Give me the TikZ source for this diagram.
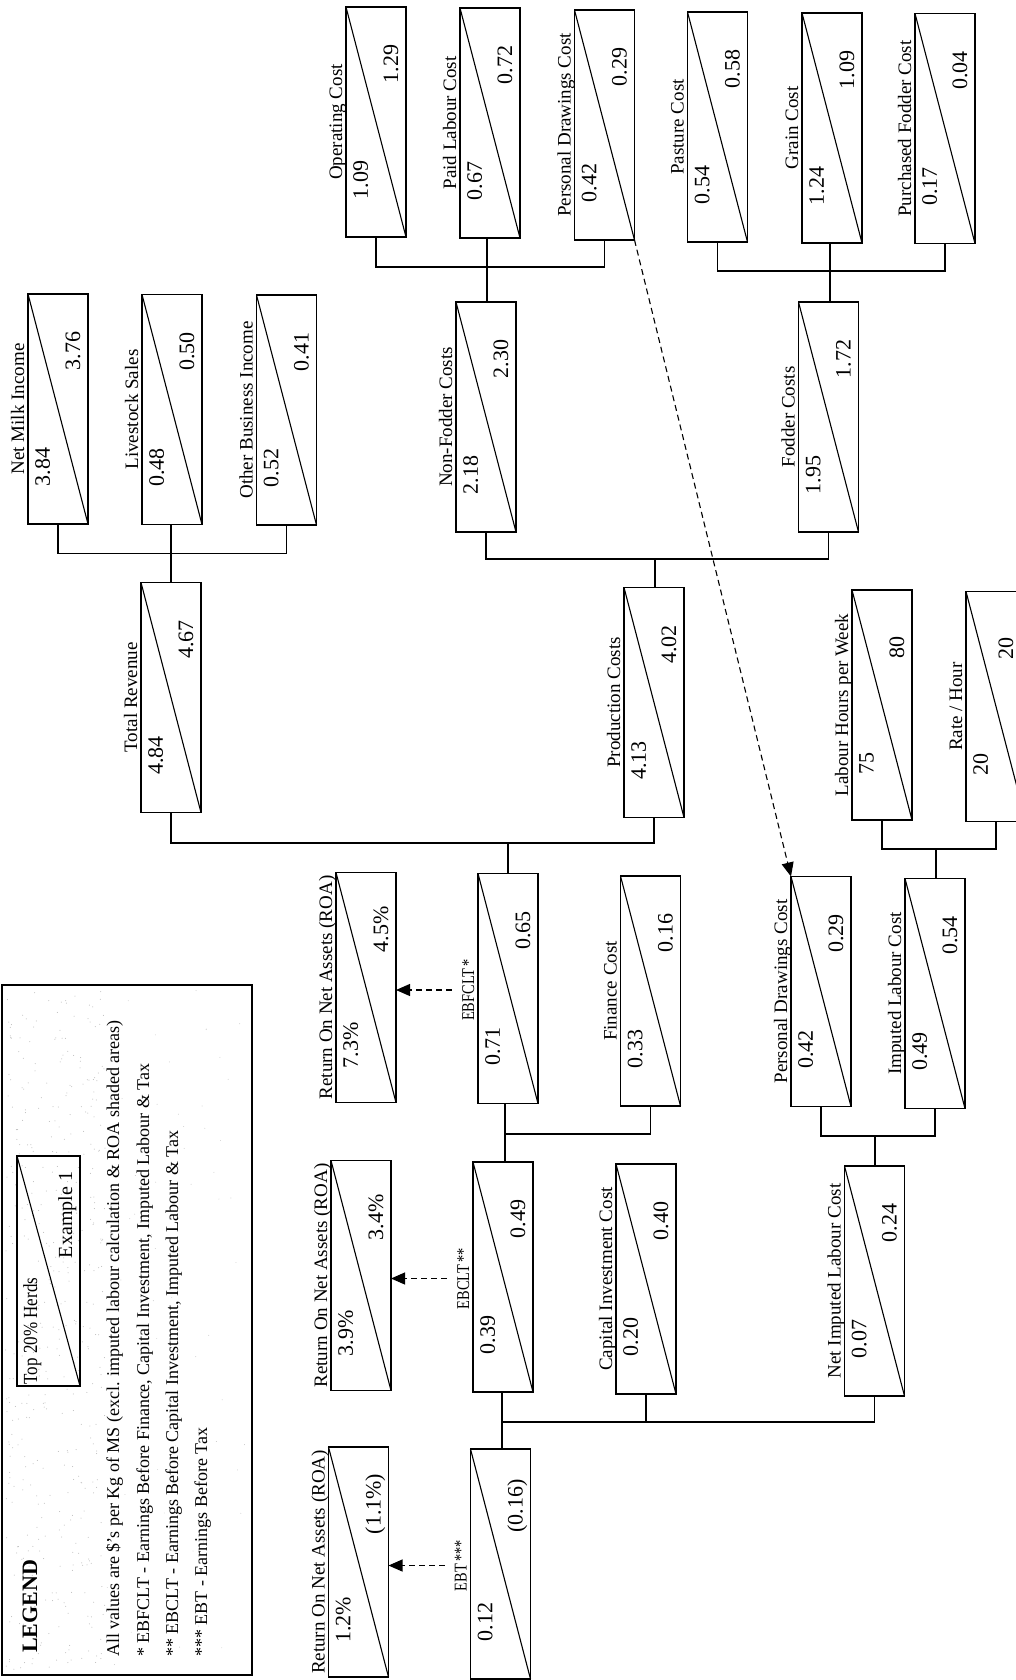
\documentclass[tikz,border=0pt]{standalone}
\usepackage{graphicx}
\usepackage{fontspec}
\setmainfont{Liberation Serif}
\usetikzlibrary{arrows.meta,calc}
\tikzset{
  bx/.style={draw, line width=1.2pt, minimum width=60pt, minimum height=230pt, inner sep=0pt, outer sep=0pt},
  diag/.style={line width=1.1pt},
  lbl/.style={rotate=90, inner sep=0pt, font=\fontsize{19}{19}\selectfont},
  eblbl/.style={rotate=90, inner sep=0pt, font=\fontsize{18}{18}\selectfont, xshift=-1.5pt},
  val/.style={rotate=90, inner sep=0pt, font=\fontsize{22}{22}\selectfont},
  conn/.style={line width=1.1pt},
  darr/.style={line width=1.1pt, dash pattern=on 6pt off 4pt, -{Triangle[length=14pt,width=12pt]}},
  legtxt/.style={rotate=90, inner sep=0pt, anchor=base west, font=\fontsize{18}{18}\selectfont},
}
\newcommand{\narrow}[1]{\scalebox{0.8}[1]{#1}}
\newcommand{\vtwoshift}{-8pt}
\newcommand{\dbox}[7][lbl]{%
  \node[bx] (#2) at (#3,-#4) {};
  \draw[diag] (#2.north west) -- (#2.south east);
  \node[#1, anchor=base] (#2-l) at ([xshift=-4pt]#2.west) {#5};
  \node[val, anchor=north] (#2-a) at ([xshift=7pt,yshift=57pt]#2.south west) {#6};
  \node[val, anchor=base] (#2-b) at ([xshift=\vtwoshift,yshift=-57pt]#2.north east) {#7};
}
\begin{document}
\begin{tikzpicture}[x=1pt,y=1pt]
\clip (0,0) rectangle (1016,-1680);
\fill[white] (0,0) rectangle (1016,-1680);

% ---------- legend ----------
\node[draw, line width=1.2pt, minimum width=250pt, minimum height=690pt, inner sep=0pt] (leg) at (127,-1330) {};
\pgfmathsetseed{12}
\foreach \i in {1,...,420}{\fill[gray!55] ({5+100*rnd},{-990-680*rnd}) circle (0.5pt);}
\foreach \i in {1,...,60}{\fill[gray!45] ({105+140*rnd},{-990-680*rnd}) circle (0.45pt);}
\node[rotate=90, anchor=base west, inner sep=0pt, font=\bfseries\fontsize{22}{22}\selectfont] (legt) at (37,-1653) {LEGEND};
\node[bx, minimum width=63pt] (smp) at (48.5,-1271) {};
\draw[diag] (smp.north west) -- (smp.south east);
\node[rotate=90, inner sep=0pt, anchor=north, font=\fontsize{20}{20}\selectfont] (smp-a) at ([xshift=6pt,yshift=55pt]smp.south west) {\scalebox{0.85}[1]{Top 20\% Herds}};
\node[rotate=90, inner sep=0pt, anchor=base, font=\fontsize{20}{20}\selectfont] (smp-b) at ([xshift=-8pt,yshift=-59pt]smp.north east) {Example 1};
\node[legtxt] (lg1) at (119,-1657) {All values are \$'s per Kg of MS (excl. imputed labour calculation \& ROA shaded areas)};
\node[legtxt] (lg2) at (149,-1657) {* EBFCLT - Earnings Before Finance, Capital Investment, Imputed Labour \& Tax};
\node[legtxt] (lg3) at (178,-1657) {** EBCLT - Earnings Before Capital Investment, Imputed Labour \& Tax};
\node[legtxt] (lg4) at (207,-1657) {*** EBT - Earnings Before Tax};

% ---------- boxes ----------
\dbox{oc}{376}{122}{Operating Cost}{1.09}{1.29}
\dbox{plc}{490}{123}{Paid Labour Cost}{0.67}{0.72}
\dbox{pd1}{604.5}{125}{Personal Drawings Cost}{0.42}{0.29}
\dbox{pc}{717.5}{127}{Pasture Cost}{0.54}{0.58}
\dbox{gc}{832}{128}{Grain Cost}{1.24}{1.09}
\dbox{pfc}{945}{128.5}{Purchased Fodder Cost}{0.17}{0.04}

\dbox{nmi}{58}{409}{Net Milk Income}{3.84}{3.76}
\dbox{ls}{172}{409.5}{Livestock Sales}{0.48}{0.50}
\dbox{obi}{286.5}{410}{Other Business Income}{0.52}{0.41}
\dbox{nfc}{486}{417}{Non-Fodder Costs}{2.18}{2.30}
\dbox{fc}{828.5}{417}{Fodder Costs}{1.95}{1.72}

\dbox{tr}{171}{697.5}{Total Revenue}{4.84}{4.67}
\dbox{prc}{654}{702.5}{Production Costs}{4.13}{4.02}
\dbox{lhw}{882}{705}{Labour Hours per Week}{75}{80}
{\renewcommand{\vtwoshift}{-13pt}\dbox{rh}{996}{706.5}{Rate / Hour}{20}{20}}

\dbox{roa1}{366}{987.5}{Return On Net Assets (ROA)}{7.3\%}{4.5\%}
\dbox[eblbl]{ebf}{508}{988.5}{\narrow{EBFCLT\,*}}{0.71}{0.65}
\dbox{fin}{650.5}{991}{Finance Cost}{0.33}{0.16}
\dbox{pd2}{821}{991.5}{Personal Drawings Cost}{0.42}{0.29}
\dbox{ilc}{935}{993.5}{Imputed Labour Cost}{0.49}{0.54}

\dbox{roa2}{361}{1275.5}{Return On Net Assets (ROA)}{3.9\%}{3.4\%}
\dbox[eblbl]{ebc}{503}{1277}{\narrow{EBCLT\,**}}{0.39}{0.49}
\dbox{cic}{646}{1279}{Capital Investment Cost}{0.20}{0.40}
\dbox{nilc}{874.5}{1281}{Net Imputed Labour Cost}{0.07}{0.24}

\dbox{roa3}{358.5}{1562}{Return On Net Assets (ROA)}{1.2\%}{(1.1\%)}
\dbox[eblbl]{ebt}{500.5}{1564}{\narrow{EBT\,***}}{0.12}{(0.16)}

% ---------- connectors ----------
\coordinate (j1) at (171,-553.6);
\draw[conn] (nmi.south) |- (j1) -| (obi.south);
\draw[conn] (j1 |- ls.south) -- (j1 |- tr.north);

\coordinate (j2) at (487,-267);
\draw[conn] (oc.south) |- (j2) -| (pd1.south);
\draw[conn] (j2 |- plc.south) -- (j2 |- nfc.north);

\coordinate (j3) at (830,-271);
\draw[conn] (pc.south) |- (j3) -| (pfc.south);
\draw[conn] (j3 |- gc.south) -- (j3 |- fc.north);

\coordinate (j4) at (655,-559);
\draw[conn] (nfc.south) |- (j4) -| (fc.south);
\draw[conn] (j4) -- (j4 |- prc.north);

\coordinate (j5) at (508,-843);
\draw[conn] (tr.south) |- (j5) -| (prc.south);
\draw[conn] (j5) -- (j5 |- ebf.north);

\coordinate (j6) at (936,-849);
\draw[conn] (lhw.south) |- (j6) -| (rh.south);
\draw[conn] (j6) -- (j6 |- ilc.north);

\coordinate (j7) at (505,-1134);
\draw[conn] (j7 |- ebf.south) -- (j7 |- ebc.north);
\draw[conn] (j7) -| (fin.south);

\coordinate (j8) at (875,-1136);
\draw[conn] (pd2.south) |- (j8) -| (ilc.south);
\draw[conn] (j8) -- (j8 |- nilc.north);

\coordinate (j9) at (502,-1422);
\draw[conn] (j9 |- ebc.south) -- (j9 |- ebt.north);
\draw[conn] (j9) -| (nilc.south);
\draw[conn] (cic.south) -- (cic.south |- j9);

% ---------- dashed arrows ----------
\draw[darr] (pd1.south east) -- (pd2.north west);
\draw[darr] ([xshift=-10pt]ebf-l.north) -- (ebf-l.north -| roa1.east);
\draw[darr] ([xshift=-10pt]ebc-l.north) -- (ebc-l.north -| roa2.east);
\draw[darr] ([xshift=-10pt]ebt-l.north) -- (ebt-l.north -| roa3.east);
\end{tikzpicture}
\end{document}
